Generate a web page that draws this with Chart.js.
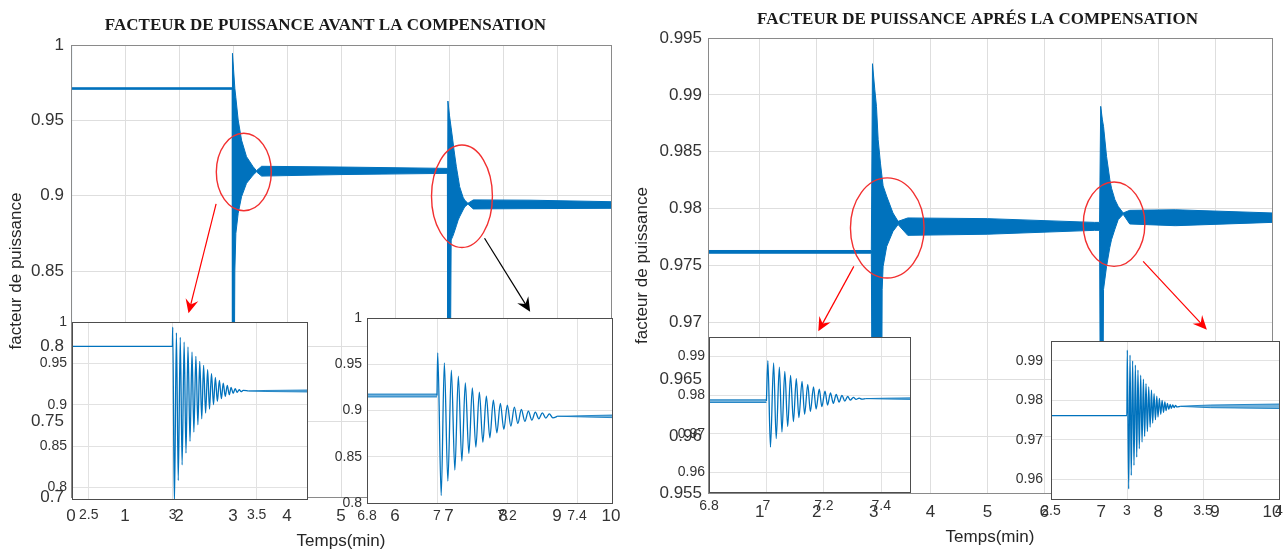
<!DOCTYPE html>
<html>
<head>
<meta charset="utf-8">
<title>Facteur de puissance</title>
<script src="https://cdn.jsdelivr.net/npm/chart.js@4.4.1/dist/chart.umd.min.js"></script>
<style>
  html, body { margin: 0; padding: 0; background: #fff; overflow: hidden; width: 1288px; height: 552px; }
  canvas { position: absolute; }
  #avant, #apres { z-index: 1; }
  .zoom { z-index: 2; }
</style>
</head>
<body>
<canvas id="avant" width="651" height="552" style="left:0px;top:0px"></canvas>
<canvas id="apres" width="695" height="552" style="left:630px;top:0px"></canvas>
<canvas id="zoomA1" class="zoom" width="289" height="221" style="left:32px;top:304px"></canvas>
<canvas id="zoomA2" class="zoom" width="299" height="229" style="left:327px;top:300px"></canvas>
<canvas id="zoomP1" class="zoom" width="255" height="199" style="left:669px;top:319px"></canvas>
<canvas id="zoomP2" class="zoom" width="282" height="202" style="left:1011px;top:323px"></canvas>
<script>
// ---- avant la compensation : enveloppe de l'oscillation (haut / bas) ----
const tAvant = [0, 0.01, 2.985, 2.99, 3.01, 3.034, 3.053, 3.096, 3.158, 3.25, 3.373, 3.435, 3.53, 5.0, 6.97,
  6.98, 7.01, 7.04, 7.07, 7.09, 7.136, 7.17, 7.197, 7.26, 7.29, 7.35, 7.45, 8.5, 10];
const hautAvant = [1.0, 0.9716, 0.9716, 0.9945, 0.984, 0.9713, 0.965, 0.9502, 0.9369, 0.9259, 0.9192, 0.9166, 0.9195, 0.9190, 0.9181,
  0.9628, 0.9530, 0.945, 0.9369, 0.931, 0.9192, 0.912, 0.906, 0.899, 0.8971, 0.8949, 0.8972, 0.8970, 0.8960];
const basAvant = [0.69, 0.9706, 0.9706, 0.69, 0.69, 0.85, 0.875, 0.8883, 0.8993, 0.9082, 0.9137, 0.9158, 0.9130, 0.9140, 0.9148,
  0.69, 0.69, 0.8706, 0.873, 0.875, 0.880, 0.8839, 0.886, 0.8905, 0.8925, 0.8944, 0.8912, 0.8914, 0.8916];

// ---- apres la compensation ----
const tApres = [0.09, 2.96, 2.98, 3.02, 3.05, 3.08, 3.12, 3.14, 3.15, 3.167, 3.23, 3.34, 3.43, 3.6, 5.0,
  6.88, 6.97, 6.99, 7.02, 7.04, 7.093, 7.151, 7.18, 7.24, 7.297, 7.385, 7.5, 8.3, 10];
const hautApres = [0.97632, 0.97632, 0.99274, 0.9905, 0.98899, 0.98606, 0.9840, 0.98313, 0.9827, 0.9820, 0.98108, 0.97962, 0.97888, 0.97918, 0.97912,
  0.97879, 0.97879, 0.98899, 0.9878, 0.98723, 0.98459, 0.98254, 0.9818, 0.98079, 0.9802, 0.97962, 0.97985, 0.9799, 0.97962];
const basApres = [0.97608, 0.97608, 0.954, 0.954, 0.954, 0.954, 0.954, 0.960, 0.97287, 0.97492, 0.97668, 0.9780, 0.9786, 0.97765, 0.97775,
  0.97809, 0.97809, 0.954, 0.954, 0.9729, 0.97492, 0.9766, 0.97727, 0.9782, 0.97903, 0.9795, 0.97865, 0.9785, 0.97879];

// ---- zoom avant, t = 3 min (pics et creux) ----
const tZA1 = [2.4, 2.998, 3.000, 3.010, 3.022, 3.033, 3.045, 3.056, 3.068, 3.079, 3.091, 3.103, 3.115, 3.126, 3.138, 3.150, 3.161, 3.173, 3.184, 3.196,
  3.208, 3.219, 3.231, 3.243, 3.254, 3.266, 3.278, 3.290, 3.301, 3.313, 3.325, 3.337, 3.348, 3.360, 3.372, 3.384, 3.396, 3.408, 3.420, 3.45];
const vZA1 = [0.9705, 0.9705, 0.9937, 0.780, 0.9868, 0.8084, 0.9815, 0.8273, 0.9759, 0.8415, 0.9698, 0.8556, 0.9638, 0.8669, 0.9585, 0.8758, 0.9525, 0.8830, 0.9476, 0.8899,
  0.9424, 0.8948, 0.9375, 0.9000, 0.9331, 0.9040, 0.9295, 0.9073, 0.9262, 0.9101, 0.9234, 0.9121, 0.9210, 0.9137, 0.9194, 0.9149, 0.9182, 0.9157, 0.9174, 0.9166];
const tRA1 = [3.45, 3.55, 3.8];
const hautRA1 = [0.9166, 0.9172, 0.9178];
const basRA1 = [0.9166, 0.9160, 0.9154];

// ---- zoom avant, t = 7 min ----
const tPA2 = [6.8, 7.0];
const hautPA2 = [0.9178, 0.9178];
const basPA2 = [0.9146, 0.9146];
const tZA2 = [7.000, 7.002, 7.012, 7.021, 7.031, 7.041, 7.051, 7.061, 7.071, 7.081, 7.091, 7.101, 7.111, 7.121, 7.131, 7.141, 7.151, 7.161,
  7.171, 7.181, 7.191, 7.201, 7.211, 7.221, 7.231, 7.241, 7.251, 7.261, 7.271, 7.281, 7.291, 7.301, 7.311, 7.321, 7.331, 7.345];
const vZA2 = [0.9162, 0.9623, 0.8082, 0.9515, 0.8237, 0.9436, 0.8356, 0.9371, 0.8453, 0.9299, 0.8536, 0.9245, 0.8604, 0.9198, 0.8658, 0.9155, 0.8705, 0.9112,
  0.8759, 0.9076, 0.8795, 0.9058, 0.8831, 0.9036, 0.8860, 0.9011, 0.8882, 0.8993, 0.8896, 0.8982, 0.8910, 0.8975, 0.8918, 0.8964, 0.8921, 0.8938];
const tRA2 = [7.345, 7.42, 7.5];
const hautRA2 = [0.8938, 0.8944, 0.8951];
const basRA2 = [0.8938, 0.8930, 0.8923];

// ---- zoom apres, t = 7 min ----
const tPP1 = [6.8, 7.0];
const hautPP1 = [0.9788, 0.9788];
const basPP1 = [0.9781, 0.9781];
const tZP1 = [7.000, 7.005, 7.014, 7.025, 7.034, 7.045, 7.054, 7.064, 7.074, 7.084, 7.094, 7.104, 7.113, 7.124, 7.133, 7.144, 7.153, 7.164,
  7.173, 7.184, 7.193, 7.204, 7.213, 7.223, 7.233, 7.243, 7.253, 7.263, 7.273, 7.283, 7.292, 7.303, 7.312, 7.323, 7.332, 7.345];
const vZP1 = [0.97846, 0.98892, 0.96656, 0.98832, 0.96877, 0.98722, 0.97047, 0.98611, 0.97192, 0.98509, 0.97319, 0.98424, 0.97421, 0.98356, 0.97506, 0.98280, 0.97574, 0.98212,
  0.97642, 0.98152, 0.97702, 0.98101, 0.97744, 0.98059, 0.97787, 0.98016, 0.97821, 0.97991, 0.97846, 0.97965, 0.97872, 0.97940, 0.97889, 0.97923, 0.97897, 0.9791];
const tRP1 = [7.345, 7.42, 7.5];
const hautRP1 = [0.9791, 0.97922, 0.97930];
const basRP1 = [0.9791, 0.97898, 0.97890];

// ---- zoom apres, t = 3 min ----
const tZP2 = [2.5, 2.999, 3.002, 3.011, 3.020, 3.028, 3.037, 3.046, 3.055, 3.064, 3.072, 3.081, 3.090, 3.099, 3.108, 3.116, 3.125, 3.134, 3.143, 3.152,
  3.161, 3.169, 3.178, 3.187, 3.196, 3.204, 3.213, 3.222, 3.231, 3.240, 3.249, 3.257, 3.266, 3.275, 3.284, 3.292, 3.301, 3.310, 3.319, 3.328, 3.35];
const vZP2 = [0.9761, 0.9761, 0.99268, 0.95757, 0.99141, 0.96096, 0.98997, 0.96350, 0.98888, 0.96561, 0.98761, 0.96772, 0.98634, 0.96942, 0.98532, 0.97086, 0.98422, 0.97212, 0.98338, 0.97322,
  0.98253, 0.97424, 0.98168, 0.97508, 0.98101, 0.97576, 0.98050, 0.97644, 0.97999, 0.97695, 0.97957, 0.97737, 0.97923, 0.97771, 0.97898, 0.97796, 0.97881, 0.97813, 0.97872, 0.97830, 0.97847];
const tRP2 = [3.35, 3.55, 4.0];
const hautRP2 = [0.97850, 0.97880, 0.97905];
const basRP2 = [0.97844, 0.97812, 0.97790];

// ---- graduations ----
const xTicksAvant = [0, 1, 2, 3, 4, 5, 6, 7, 8, 9, 10];
const yTicksAvant = [0.7, 0.75, 0.8, 0.85, 0.9, 0.95, 1];
const xTicksApres = [1, 2, 3, 4, 5, 6, 7, 8, 9, 10];
const yTicksApres = [0.955, 0.96, 0.965, 0.97, 0.975, 0.98, 0.985, 0.99, 0.995];
const xTicksZA1 = [2.5, 3, 3.5];
const xTicksZ7 = [6.8, 7, 7.2, 7.4];
const yTicksZA = [0.8, 0.85, 0.9, 0.95, 1];
const xTicksZP2 = [2.5, 3, 3.5, 4];
const yTicksZP = [0.96, 0.97, 0.98, 0.99];

const bleu = '#0072BD';
const bleuOndule = 'rgba(0, 114, 189, 0.55)';
Chart.defaults.font.family = '"Liberation Sans", Arial, sans-serif';
Chart.defaults.color = '#333';

function pts(ts, vs) { return ts.map((t, i) => ({x: t, y: vs[i]})); }

// bande pleine entre l'enveloppe haute et l'enveloppe basse
function bande(ts, haut, bas, w, fond) {
  return [
    {data: pts(ts, haut), borderColor: bleu, borderWidth: w, pointRadius: 0, fill: false, clip: 0},
    {data: pts(ts, bas), borderColor: bleu, borderWidth: w, pointRadius: 0, fill: '-1', backgroundColor: fond || bleu, clip: 0}
  ];
}

function courbe(ts, vs) {
  return {data: pts(ts, vs), borderColor: bleu, borderWidth: 1.3, pointRadius: 0, fill: false,
    cubicInterpolationMode: 'monotone', clip: 0};
}

// cadre autour de la zone de tracé, fond blanc pour les zooms
const cadre = {
  id: 'cadre',
  beforeDraw(chart, args, opts) {
    if (!opts.fond) return;
    const a = chart.chartArea;
    chart.ctx.save();
    chart.ctx.fillStyle = '#fff';
    chart.ctx.fillRect(a.left, a.top, a.right - a.left, a.bottom - a.top);
    chart.ctx.restore();
  },
  afterDraw(chart, args, opts) {
    const a = chart.chartArea, ctx = chart.ctx;
    ctx.save();
    ctx.strokeStyle = opts.couleur;
    ctx.lineWidth = 1;
    ctx.strokeRect(Math.round(a.left) + 0.5, Math.round(a.top) + 0.5, Math.round(a.right - a.left), Math.round(a.bottom - a.top));
    ctx.restore();
  }
};

// ellipses rouges et flèches
const reperes = {
  id: 'reperes',
  afterDatasetsDraw(chart, args, opts) {
    const {ctx, scales: {x, y}} = chart;
    ctx.save();
    (opts.ellipses || []).forEach(e => {
      const cx = x.getPixelForValue(e.x), cy = y.getPixelForValue(e.y);
      const rx = Math.abs(x.getPixelForValue(e.x + e.rx) - cx);
      const ry = Math.abs(y.getPixelForValue(e.y + e.ry) - cy);
      ctx.beginPath();
      ctx.ellipse(cx, cy, rx, ry, 0, 0, 2 * Math.PI);
      ctx.strokeStyle = '#f23030';
      ctx.lineWidth = 1.4;
      ctx.stroke();
    });
    (opts.fleches || []).forEach(f => {
      const x0 = x.getPixelForValue(f.de[0]), y0 = y.getPixelForValue(f.de[1]);
      const x1 = x.getPixelForValue(f.a[0]), y1 = y.getPixelForValue(f.a[1]);
      const ang = Math.atan2(y1 - y0, x1 - x0);
      ctx.strokeStyle = f.couleur;
      ctx.fillStyle = f.couleur;
      ctx.lineWidth = 1.2;
      ctx.beginPath();
      ctx.moveTo(x0, y0);
      ctx.lineTo(x1 - Math.cos(ang) * 8, y1 - Math.sin(ang) * 8);
      ctx.stroke();
      ctx.save();
      ctx.translate(x1, y1);
      ctx.rotate(ang);
      ctx.beginPath();
      ctx.moveTo(0, 0);
      ctx.lineTo(-14, -6.5);
      ctx.lineTo(-9, 0);
      ctx.lineTo(-14, 6.5);
      ctx.closePath();
      ctx.fill();
      ctx.restore();
    });
    ctx.restore();
  }
};

function echelles(c) {
  const s = {
    x: {
      type: 'linear', min: c.xmin, max: c.xmax,
      afterBuildTicks: s => { s.ticks = c.xticks.map(v => ({value: v})); },
      afterFit: s => { s.height = c.xh; },
      grid: {color: c.grille, drawTicks: false},
      border: {display: false},
      ticks: {padding: c.xpad, font: {size: c.fs}, autoSkip: false, maxRotation: 0, callback: v => String(v)},
      title: {display: !!c.xtitre, text: c.xtitre, color: '#262626', font: {size: 17}, padding: {top: 0, bottom: c.xtb || 0}}
    },
    y: {
      min: c.ymin, max: c.ymax,
      afterBuildTicks: s => { s.ticks = c.yticks.map(v => ({value: v})); },
      afterFit: s => { s.width = c.yw; },
      grid: {color: c.grille, drawTicks: false},
      border: {display: false},
      ticks: {padding: c.ypad, font: {size: c.fs}, autoSkip: false, callback: v => String(v)},
      title: {display: !!c.ytitre, text: c.ytitre, color: '#262626', font: {size: 17}, padding: {top: c.ytp || 0, bottom: 0}}
    }
  };
  if (c.droite) {
    // marge vide à droite (garde le titre centré comme dans la figure)
    s.y2 = {position: 'right', afterFit: s => { s.width = c.droite; },
      grid: {display: false, drawTicks: false}, border: {display: false}, ticks: {display: false}};
  }
  return s;
}

const base = {responsive: false, animation: false, devicePixelRatio: 1, events: []};
const policeTitre = {family: '"Liberation Serif", serif', weight: 'bold', size: 17};

// graphique principal : avant
new Chart(document.getElementById('avant'), {
  type: 'line',
  data: {datasets: bande(tAvant, hautAvant, basAvant, 1)},
  options: Object.assign({}, base, {
    layout: {padding: 0},
    scales: echelles({xmin: 0, xmax: 10, xticks: xTicksAvant, ymin: 0.7, ymax: 1, yticks: yTicksAvant,
      xh: 55, yw: 71, droite: 40, xpad: 9, ypad: 7, fs: 17, grille: '#dedede',
      xtitre: 'Temps(min)', ytitre: 'facteur de puissance', ytp: 6}),
    plugins: {
      legend: {display: false}, tooltip: {enabled: false},
      title: {display: true, text: 'FACTEUR DE PUISSANCE AVANT LA COMPENSATION', color: '#1a1a1a',
        font: policeTitre, padding: {top: 15, bottom: 9.6}},
      cadre: {couleur: '#8a8a8a'},
      reperes: {
        ellipses: [{x: 3.2, y: 0.9157, rx: 0.509, ry: 0.0257}, {x: 7.24, y: 0.8996, rx: 0.564, ry: 0.034}],
        fleches: [{de: [2.687, 0.8945], a: [2.176, 0.8219], couleur: '#ff0000'},
                  {de: [7.658, 0.8717], a: [8.503, 0.823], couleur: '#000000'}]
      }
    }
  }),
  plugins: [cadre, reperes]
});

// graphique principal : après
new Chart(document.getElementById('apres'), {
  type: 'line',
  data: {datasets: bande(tApres, hautApres, basApres, 1)},
  options: Object.assign({}, base, {
    layout: {padding: 0},
    scales: echelles({xmin: 0.09, xmax: 10, xticks: xTicksApres, ymin: 0.955, ymax: 0.995, yticks: yTicksApres,
      xh: 59, yw: 78, droite: 53, xpad: 9, ypad: 6, fs: 17, grille: '#dedede',
      xtitre: 'Temps(min)', xtb: 4, ytitre: 'facteur de puissance', ytp: 2}),
    plugins: {
      legend: {display: false}, tooltip: {enabled: false},
      title: {display: true, text: 'FACTEUR DE PUISSANCE APRÉS LA COMPENSATION', color: '#1a1a1a',
        font: policeTitre, padding: {top: 9.8, bottom: 7.8}},
      cadre: {couleur: '#8a8a8a'},
      reperes: {
        ellipses: [{x: 3.24, y: 0.9783, rx: 0.647, ry: 0.0044}, {x: 7.225, y: 0.97863, rx: 0.541, ry: 0.00371}],
        fleches: [{de: [2.652, 0.97492], a: [2.028, 0.96921], couleur: '#ff0000'},
                  {de: [7.736, 0.97536], a: [8.856, 0.96936], couleur: '#ff0000'}]
      }
    }
  }),
  plugins: [cadre, reperes]
});

// zooms
function zoom(id, datasets, c) {
  new Chart(document.getElementById(id), {
    type: 'line',
    data: {datasets: datasets},
    options: Object.assign({}, base, {
      layout: {padding: {left: 0, right: 14, top: 18, bottom: 0}},
      scales: echelles(Object.assign({xh: 26, yw: 40, fs: 14, grille: '#e2e2e2'}, c)),
      plugins: {legend: {display: false}, tooltip: {enabled: false}, title: {display: false},
        cadre: {couleur: '#4d4d4d', fond: true}}
    }),
    plugins: [cadre]
  });
}

zoom('zoomA1', [...bande(tRA1, hautRA1, basRA1, 0.8, bleuOndule), courbe(tZA1, vZA1)],
  {xmin: 2.4, xmax: 3.8, xticks: xTicksZA1, ymin: 0.786, ymax: 1, yticks: yTicksZA, xpad: 7.6, ypad: 5});

zoom('zoomA2', [...bande(tPA2, hautPA2, basPA2, 0.8, bleuOndule), ...bande(tRA2, hautRA2, basRA2, 0.8, bleuOndule), courbe(tZA2, vZA2)],
  {xmin: 6.8, xmax: 7.5, xticks: xTicksZ7, ymin: 0.8, ymax: 1, yticks: yTicksZA, xpad: 4.6, ypad: 5});

zoom('zoomP1', [...bande(tPP1, hautPP1, basPP1, 0.8, bleuOndule), ...bande(tRP1, hautRP1, basRP1, 0.8, bleuOndule), courbe(tZP1, vZP1)],
  {xmin: 6.8, xmax: 7.5, xticks: xTicksZ7, ymin: 0.955, ymax: 0.995, yticks: yTicksZP, xpad: 6, ypad: 4});

zoom('zoomP2', [...bande(tRP2, hautRP2, basRP2, 0.8, bleuOndule), courbe(tZP2, vZP2)],
  {xmin: 2.5, xmax: 4.0, xticks: xTicksZP2, ymin: 0.955, ymax: 0.995, yticks: yTicksZP, xpad: 3.6, ypad: 8});
</script>
</body>
</html>
